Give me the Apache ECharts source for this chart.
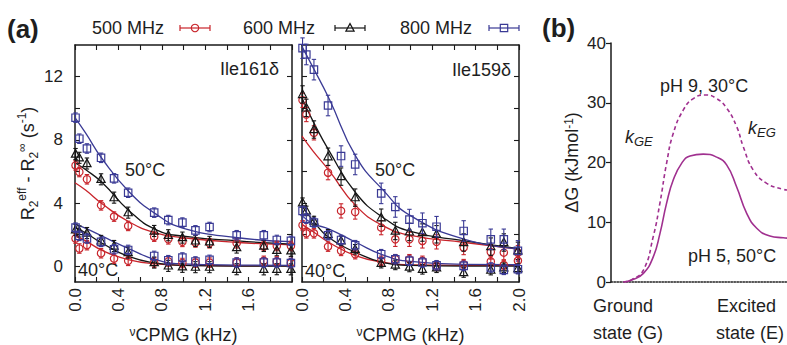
<!DOCTYPE html>
<html><head><meta charset="utf-8">
<script src="https://cdn.jsdelivr.net/npm/echarts@6/dist/echarts.min.js"></script>
<style>html,body{margin:0;padding:0;background:#fff}#c{width:787px;height:345px}</style>
</head><body><div id="c"></div>
<script>
// ---------- data ----------
const fields = ['500 MHz', '600 MHz', '800 MHz'];
const XS = [0.005, 0.04, 0.11, 0.24, 0.36, 0.49, 0.73, 0.86, 0.99, 1.11, 1.24, 1.49, 1.74, 1.86, 1.99];
const FIT_X = [0, 0.1, 0.25, 0.5, 0.75, 1.0, 1.5, 2.0];

// Ile161δ (panel 1)
const p1_500_50 = [6.38, 5.96, 5.5, 3.85, 3.14, 2.55, 1.87, 1.7, 1.54, 1.5, 1.45, 1.45, 1.28, 1.28, 1.28];
const p1_600_50 = [7.1, 6.86, 6.5, 5.5, 4.34, 3.39, 2.23, 1.96, 1.81, 1.6, 1.54, 1.18, 1.28, 1.01, 0.97];
const p1_800_50 = [9.4, 8.07, 7.45, 6.86, 5.56, 4.65, 3.39, 2.92, 2.76, 2.27, 2.48, 1.96, 1.96, 1.66, 1.6];
const p1_500_40 = [1.75, 1.12, 1.33, 0.82, 0.48, 0.34, 0.23, 0.3, 0.2, 0.23, 0.23, 0.23, 0.34, 0.3, 0.2];
const p1_600_40 = [2.3, 2.2, 2.1, 1.6, 1.28, 0.86, 0.23, 0.02, -0.04, -0.06, -0.06, -0.19, -0.2, -0.19, -0.2];
const p1_800_40 = [2.44, 1.92, 1.75, 1.54, 1.07, 1.03, 0.65, 0.38, 0.55, 0.3, 0.4, 0.23, 0.23, 0.23, 0.2];
const f1_500_50 = [5.28, 4.8, 3.95, 2.8, 2.1, 1.8, 1.5, 1.35];
const f1_600_50 = [6.55, 6.1, 5.3, 3.5, 2.3, 1.9, 1.6, 1.4];
const f1_800_50 = [9.4, 8.4, 6.8, 4.7, 3.28, 2.4, 1.8, 1.55];
const f1_500_40 = [1.92, 1.6, 1.0, 0.4, 0.15, 0.05, 0.02, 0.02];
const f1_600_40 = [2.44, 2.1, 1.45, 0.6, 0.2, 0.05, 0.0, 0.0];
const f1_800_40 = [2.65, 2.4, 1.9, 1.1, 0.4, 0.15, 0.07, 0.05];

// Ile159δ (panel 2)
const p2_500_50 = [10.5, 9.6, 8.44, 5.92, 3.5, 3.43, 2.44, 1.7, 1.7, 1.6, 1.54, 1.18, 0.9, 0.86, 0.86];
const p2_600_50 = [10.87, 10.02, 8.65, 6.93, 5.67, 4.34, 3.07, 2.23, 2.17, 2.13, 2.02, 1.5, 1.24, 1.5, 0.97];
const p2_800_50 = [13.8, 13.4, 12.44, 10.17, 6.97, 6.44, 4.61, 3.75, 2.95, 2.72, 2.5, 2.23, 1.7, 1.7, 0.97];
const p2_500_40 = [2.59, 2.08, 2.08, 1.24, 0.97, 0.76, 0.34, 0.44, 0.44, 0.34, 0.02, 0.13, 0.3, 0.07, 0.34];
const p2_600_40 = [4.02, 3.5, 2.86, 2.02, 1.6, 1.07, 0.19, 0.08, -0.05, -0.2, -0.1, -0.4, -0.25, -0.1, -0.15];
const p2_800_40 = [3.5, 3.01, 2.76, 1.96, 1.66, 1.33, 0.76, 0.44, 0.34, 0.23, 0.06, 0.02, -0.08, -0.23, -0.19];
const f2_500_50 = [8.23, 7.3, 6.05, 3.8, 2.55, 1.95, 1.5, 1.07];
const f2_600_50 = [10.65, 9.2, 7.3, 4.6, 3.07, 2.2, 1.6, 1.12];
const f2_800_50 = [13.9, 12.6, 10.6, 6.9, 4.8, 3.2, 1.7, 1.1];
const f2_500_40 = [2.65, 2.2, 1.5, 0.65, 0.25, 0.08, 0.05, 0.05];
const f2_600_40 = [3.81, 2.9, 1.8, 0.86, 0.23, 0.05, 0.0, 0.0];
const f2_800_40 = [3.2, 2.7, 2.35, 1.5, 0.7, 0.3, 0.12, 0.1];

// error bar half-widths (s^-1)
const errP1 = [0.3, 0.35, 0.3];      // 500, 600, 800 MHz
const errP2hot = [0.45, 0.55, 0.65];
const errP2cold = [0.3, 0.3, 0.3];

const xTicksLabeled = [0.0, 0.4, 0.8, 1.2, 1.6, 2.0];
const yTicksA = [0, 2, 4, 6, 8, 10, 12];
const yLabelsA = [0, 4, 8, 12];

// panel (b): reaction coordinate (0-100) vs ΔG (kJ/mol)
const dG_pH5 = [[7,0],[11.8,0.33],[18.4,1.45],[24,4.2],[27.8,8.1],[31.6,13.2],[35.4,17.1],[40.2,19.9],[44.9,21.1],[52.4,21.4],[60,20.9],[65.7,19.6],[71.4,15.9],[77.1,11.5],[82.8,9.0],[90.3,7.7],[97.9,7.4],[100,7.35]];
const dG_pH9 = [[7,0],[11.8,0.4],[18.4,2.0],[24,7.6],[27.8,13.2],[31.6,19.9],[35.4,24.9],[41.1,28.8],[46.8,30.7],[53.4,31.3],[60,30.7],[65.7,29.1],[71.4,26.0],[75.2,22.6],[80.9,18.7],[88.5,16.5],[97.9,15.5],[100,15.4]];
const stateLabels = [['Ground', 'state (G)'], ['Excited', 'state (E)']];

// ---------- styling ----------
const FONT = '"Liberation Sans", Arial, Helvetica, sans-serif';
const TXT = '#1e1e1e';
const COLORS = ['#c8242b', '#151515', '#3a3a95'];
const SYMS = ['circle', 'triangle', 'square'];
const PURPLE = '#a0308f';
const axLine = {color: '#1a1a1a', width: 1.5};

function symbolEl(sym, cx, cy, color) {
  const st = {fill: 'none', stroke: color, lineWidth: 1.2};
  if (sym === 'circle') return {type: 'circle', shape: {cx, cy, r: 3.7}, style: st};
  if (sym === 'square') return {type: 'rect', shape: {x: cx - 3.7, y: cy - 3.7, width: 7.4, height: 7.4}, style: st};
  return {type: 'polygon', shape: {points: [[cx, cy - 4.4], [cx - 4.1, cy + 3.1], [cx + 4.1, cy + 3.1]]}, style: st};
}

function errSeries(ys, err, k, xi, yi) {
  const color = COLORS[k], sym = SYMS[k];
  return {
    type: 'custom', name: fields[k], xAxisIndex: xi, yAxisIndex: yi, z: 4, clip: false,
    data: XS.map((x, i) => [x, ys[i]]),
    renderItem: (params, api) => {
      const x = api.value(0), y = api.value(1);
      const p = api.coord([x, y]), t = api.coord([x, y + err]), b = api.coord([x, y - err]);
      const ls = {stroke: color, lineWidth: 1.1};
      return {type: 'group', children: [
        {type: 'line', shape: {x1: p[0], y1: t[1], x2: p[0], y2: b[1]}, style: ls},
        {type: 'line', shape: {x1: p[0] - 2.2, y1: t[1], x2: p[0] + 2.2, y2: t[1]}, style: ls},
        {type: 'line', shape: {x1: p[0] - 2.2, y1: b[1], x2: p[0] + 2.2, y2: b[1]}, style: ls},
        symbolEl(sym, p[0], p[1], color)
      ]};
    }
  };
}
function fitSeries(ys, k, xi, yi) {
  return {type: 'line', xAxisIndex: xi, yAxisIndex: yi, z: 3, smooth: 0.5,
    showSymbol: false, silent: true, lineStyle: {color: COLORS[k], width: 1.3},
    data: FIT_X.map((x, i) => [x, ys[i]])};
}

const labelStyle = {fontSize: 17, fontFamily: FONT, color: TXT};
function xBottom(grid, hideMax) {
  return {type: 'value', gridIndex: grid, position: 'bottom', min: 0, max: 2, interval: 0.2,
    axisLine: {show: true, onZero: false, lineStyle: axLine},
    axisTick: {show: true, inside: true, length: 5, lineStyle: {color: '#1a1a1a', width: 1.1}},
    axisLabel: Object.assign({show: true, rotate: 90, margin: 6, formatter: v => {
      const r = Math.round(v * 10) / 10;
      if (!xTicksLabeled.some(t => Math.abs(t - r) < 1e-6)) return '';
      if (hideMax && r === 2) return '';
      return r.toFixed(1);
    }}, labelStyle),
    splitLine: {show: false},
    name: '{n|ν}CPMG (kHz)', nameLocation: 'middle', nameGap: 44,
    nameTextStyle: {fontSize: 18, fontFamily: FONT, color: TXT,
      rich: {n: {fontSize: 12, fontFamily: FONT, color: TXT, verticalAlign: 'top', lineHeight: 12}}}};
}
function xTop(grid) {
  return {type: 'value', gridIndex: grid, position: 'top', min: 0, max: 2, interval: 0.2,
    axisLine: {show: true, onZero: false, lineStyle: axLine},
    axisTick: {show: true, inside: true, length: 5, lineStyle: {color: '#1a1a1a', width: 1.1}},
    axisLabel: {show: false}, splitLine: {show: false}};
}
function yA(grid, pos, labels, withName) {
  const ax = {type: 'value', gridIndex: grid, position: pos, min: -1, max: 14,
    axisLine: {show: true, onZero: false, lineStyle: axLine},
    axisTick: {show: true, inside: true, length: 5, customValues: yTicksA, lineStyle: {color: '#1a1a1a', width: 1.1}},
    axisLabel: Object.assign({show: labels, customValues: yLabelsA, margin: 12}, labelStyle),
    splitLine: {show: false}};
  if (withName) {
    ax.name = '{b|R}{s|2}{p|eff}{b| - R}{s|2}{p|∞}{b| (s}{p|-1}{b|)}';
    ax.nameLocation = 'middle'; ax.nameGap = 28;
    ax.nameTextStyle = {fontSize: 18, fontFamily: FONT, color: TXT, rich: {
      b: {fontSize: 18, fontFamily: FONT, color: TXT, lineHeight: 24, verticalAlign: 'middle'},
      s: {fontSize: 12, fontFamily: FONT, color: TXT, lineHeight: 12, verticalAlign: 'bottom'},
      p: {fontSize: 12, fontFamily: FONT, color: TXT, lineHeight: 12, verticalAlign: 'top'}}};
  }
  return ax;
}

const series = [];
const P1 = [[p1_500_50, p1_600_50, p1_800_50], [p1_500_40, p1_600_40, p1_800_40]];
const F1 = [[f1_500_50, f1_600_50, f1_800_50], [f1_500_40, f1_600_40, f1_800_40]];
const P2 = [[p2_500_50, p2_600_50, p2_800_50], [p2_500_40, p2_600_40, p2_800_40]];
const F2 = [[f2_500_50, f2_600_50, f2_800_50], [f2_500_40, f2_600_40, f2_800_40]];
for (let t = 0; t < 2; t++) for (let k = 0; k < 3; k++) {
  series.push(fitSeries(F1[t][k], k, 0, 0));
  series.push(fitSeries(F2[t][k], k, 2, 2));
}
for (let t = 0; t < 2; t++) for (let k = 0; k < 3; k++) {
  series.push(errSeries(P1[t][k], errP1[k], k, 0, 0));
  series.push(errSeries(P2[t][k], t === 0 ? errP2hot[k] : errP2cold[k], k, 2, 2));
}
series.push({type: 'line', name: 'pH 5, 50°C', xAxisIndex: 4, yAxisIndex: 4, data: dG_pH5, smooth: 0.5,
  showSymbol: false, lineStyle: {color: PURPLE, width: 1.6}});
series.push({type: 'line', name: 'pH 9, 30°C', xAxisIndex: 4, yAxisIndex: 4, data: dG_pH9, smooth: 0.5,
  showSymbol: false, lineStyle: {color: PURPLE, width: 1.6, type: [4, 3]}});

function txt(text, x, y, opts) {
  return {type: 'text', silent: true, style: Object.assign({text, x, y, fontSize: 18, fontFamily: FONT, fill: TXT,
    textAlign: 'left', textVerticalAlign: 'middle'}, opts || {})};
}
function legendItem(k, textX, markX, y) {
  const c = COLORS[k], ls = {stroke: c, lineWidth: 1.2};
  return [
    txt(fields[k], textX, y),
    {type: 'line', shape: {x1: markX - 15, y1: y, x2: markX + 15, y2: y}, style: ls, silent: true},
    {type: 'line', shape: {x1: markX - 15, y1: y - 3, x2: markX - 15, y2: y + 3}, style: ls, silent: true},
    {type: 'line', shape: {x1: markX + 15, y1: y - 3, x2: markX + 15, y2: y + 3}, style: ls, silent: true},
    Object.assign(symbolEl(SYMS[k], markX, y, c), {silent: true})
  ];
}
const kRich = {k: {fontSize: 18, fontStyle: 'italic', fontFamily: FONT, fill: TXT},
               g: {fontSize: 13, fontStyle: 'italic', fontFamily: FONT, fill: TXT, padding: [8, 0, 0, 0]}};
const graphics = [
  txt('(a)', 7, 29, {fontSize: 26, fontWeight: 'bold'}),
  txt('(b)', 542, 28, {fontSize: 26, fontWeight: 'bold'}),
  ...legendItem(0, 92, 195, 28),
  ...legendItem(1, 243, 350, 28),
  ...legendItem(2, 400, 504, 28),
  txt('Ile161δ', 279, 69, {textAlign: 'right'}),
  txt('Ile159δ', 511, 70, {textAlign: 'right'}),
  txt('50°C', 125, 170), txt('40°C', 78, 270),
  txt('50°C', 375, 170), txt('40°C', 305, 271),
  txt('pH 9, 30°C', 660, 86),
  txt('pH 5, 50°C', 688, 256),
  {type: 'text', silent: true, style: {text: '{k|k}{g|GE}', x: 625, y: 137, rich: kRich, textVerticalAlign: 'middle', fontFamily: FONT}},
  {type: 'text', silent: true, style: {text: '{k|k}{g|EG}', x: 748, y: 128, rich: kRich, textVerticalAlign: 'middle', fontFamily: FONT}},
  txt(stateLabels[0][0], 593, 306), txt(stateLabels[0][1], 593, 333),
  txt(stateLabels[1][0], 717, 306), txt(stateLabels[1][1], 716, 333)
];

const option = {
  animation: false,
  backgroundColor: '#fff',
  grid: [
    {left: 75, top: 45, width: 217, height: 237, outerBoundsMode: 'none', containLabel: false},
    {left: 302, top: 45, width: 217, height: 237, outerBoundsMode: 'none', containLabel: false},
    {left: 611, top: 43, width: 176, height: 239, outerBoundsMode: 'none', containLabel: false}
  ],
  xAxis: [xBottom(0, true), xTop(0), xBottom(1, false), xTop(1),
    {type: 'value', gridIndex: 2, min: 0, max: 100,
     axisLine: {show: true, onZero: false, lineStyle: {type: 'dotted', color: '#222', width: 1.5}},
     axisTick: {show: false}, axisLabel: {show: false}, splitLine: {show: false}}],
  yAxis: [yA(0, 'left', true, true), yA(0, 'right', false, false), yA(1, 'left', false, false), yA(1, 'right', false, false),
    {type: 'value', gridIndex: 2, min: 0, max: 40, interval: 10,
     axisLine: {show: true, lineStyle: axLine},
     axisTick: {show: true, length: 5, lineStyle: {color: '#1a1a1a', width: 1.2}},
     axisLabel: Object.assign({margin: 5}, labelStyle), splitLine: {show: false},
     name: 'ΔG (kJmol{p|-1})', nameLocation: 'middle', nameGap: 30,
     nameTextStyle: {fontSize: 18, fontFamily: FONT, color: TXT, rich: {
       p: {fontSize: 12, fontFamily: FONT, color: TXT, lineHeight: 12, verticalAlign: 'top'}}}}],
  series,
  graphic: graphics
};
const chart = echarts.init(document.getElementById('c'), null, {renderer: 'svg'});
chart.setOption(option);
</script></body></html>
